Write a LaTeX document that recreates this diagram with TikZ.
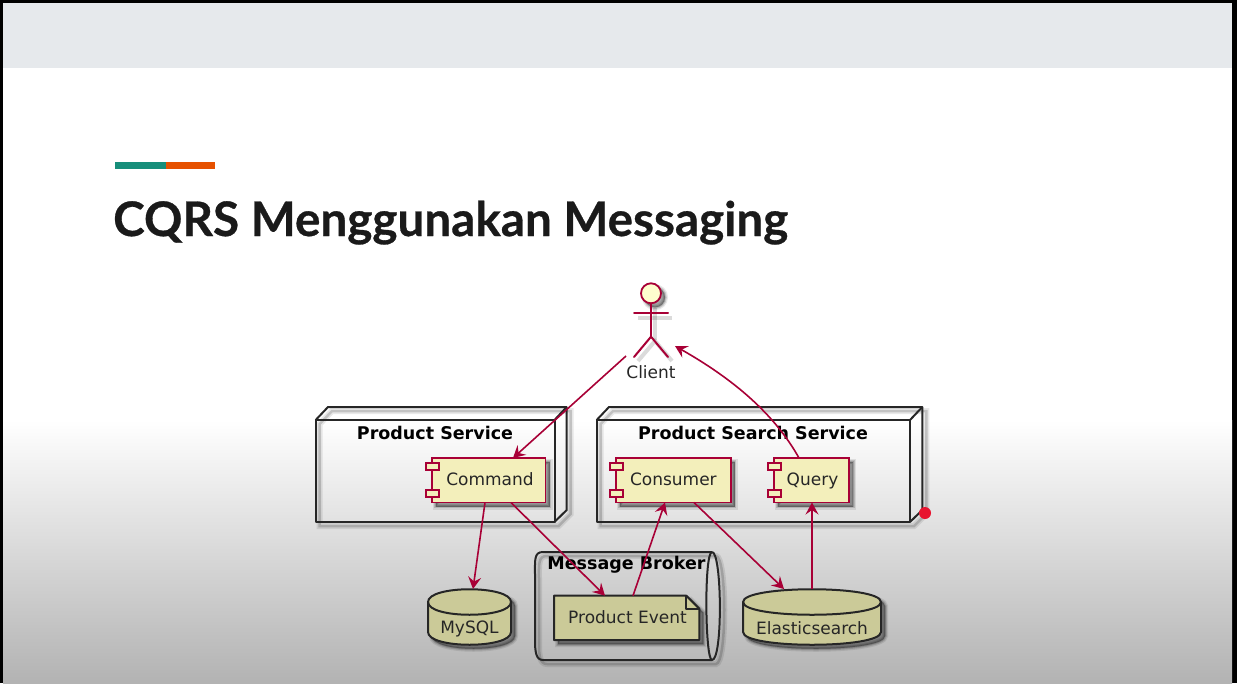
\documentclass[tikz,border=0pt]{standalone}
\usepackage{fontspec}
\setmainfont{DejaVu Sans}
\newfontfamily\titlefont[BoldFeatures={FakeBold=0.6}]{Lato}
\usetikzlibrary{arrows.meta,calc}
\definecolor{umlred}{HTML}{A80036}
\definecolor{compfill}{HTML}{F3EFBB}
\definecolor{dbfill}{HTML}{CBCA98}
\definecolor{headfill}{HTML}{FEFECE}
\definecolor{inkcol}{HTML}{262626}
\definecolor{titlecol}{HTML}{1A1A1A}
\tikzset{
  softshadow/.style={
    preaction={draw=black,fill=black,draw opacity=.09,fill opacity=.09,line width=6pt,transform canvas={shift={(4pt,-4pt)}}},
    preaction={draw=black,fill=black,draw opacity=.14,fill opacity=.14,line width=3.5pt,transform canvas={shift={(4pt,-4pt)}}},
    preaction={draw=black,fill=black,draw opacity=.16,fill opacity=.16,line width=1.5pt,transform canvas={shift={(4pt,-4pt)}}}},
  lineshadow/.style={
    preaction={draw=black,draw opacity=.09,line width=6pt,transform canvas={shift={(4pt,-4pt)}}},
    preaction={draw=black,draw opacity=.16,line width=2.5pt,transform canvas={shift={(4pt,-4pt)}}}},
  comp/.style={rectangle,draw=umlred,line width=1.8pt,fill=compfill,softshadow,inner sep=0pt,outer sep=0pt,font=\fontsize{17}{20}\selectfont,text=inkcol,text height=14pt,text depth=4pt},
  port/.style={rectangle,draw=umlred,line width=1.8pt,fill=compfill,inner sep=0pt,outer sep=0pt,minimum width=13pt,minimum height=7pt},
  boxline/.style={draw=inkcol,line width=2pt,line join=round},
  frontbox/.style={rectangle,boxline,inner sep=0pt,outer sep=0pt},
  titletxt/.style={font=\bfseries\fontsize{17.5}{20}\selectfont,text=black,inner sep=0pt},
  dbtxt/.style={font=\fontsize{17}{20}\selectfont,text=inkcol,inner sep=0pt},
  conn/.style={draw=umlred,line width=1.6pt,-{Stealth[length=12pt,width=13pt,inset=4.5pt]}},
  limb/.style={draw=umlred,line width=2pt,line cap=round},
  limbshadow/.style={draw=black,draw opacity=.14,line width=4pt}
}
\begin{document}
\begin{tikzpicture}[x=1pt,y=-1pt]
\useasboundingbox (0,0) rectangle (1237,683);
% slide background
\fill[black] (0,0) rectangle (1237,683);
\fill[white] (3,2.5) rectangle (1232,683);
\fill[top color=white,bottom color=black!30] (3,420) rectangle (1232,683);
\fill[fill={rgb,255:red,230;green,233;blue,236}] (3,2.5) rectangle (1232,68);
% accent bar
\fill[fill={rgb,255:red,23;green,142;blue,122}] (115,162) rectangle (165.5,168.5);
\fill[fill={rgb,255:red,230;green,81;blue,0}] (165.5,162) rectangle (215,168.5);
% title
\node[anchor=base west,inner sep=0pt,text=titlecol,font=\titlefont\bfseries\fontsize{47.6}{50}\selectfont] (title) at (113,236) {CQRS Menggunakan Messaging};
% Product Service node
\path[lineshadow] (315.7,420) -- (328,407) -- (566.7,407) -- (566.7,510) -- (554.5,522) -- (315.7,522) -- cycle;
\node[frontbox,anchor=north west,minimum width=238.8pt,minimum height=102pt] (ps) at (315.7,420) {};
\draw[boxline] (ps.north west) -- (328,407) -- (566.7,407) -- (566.7,510) -- (ps.south east);
\draw[boxline] (ps.north east) -- (566.7,407);
\node[titletxt] (pst) at (435,433) {Product Service};
% Product Search Service node
\path[lineshadow] (596.7,420) -- (609,407) -- (922.3,407) -- (922.3,510) -- (910,522) -- (596.7,522) -- cycle;
\node[frontbox,anchor=north west,minimum width=313.3pt,minimum height=102pt] (pss) at (596.7,420) {};
\draw[boxline] (pss.north west) -- (609,407) -- (922.3,407) -- (922.3,510) -- (pss.south east);
\draw[boxline] (pss.north east) -- (922.3,407);
\node[titletxt] (psst) at (753,433) {Product Search Service};
% Components
\node[comp,anchor=north west,minimum width=113.5pt,minimum height=44.5pt] (cmd) at (432,458) {\hspace*{2.5pt}Command};
\node[port] (cmdp1) at (432.5,466.7) {};
\node[port] (cmdp2) at (432.5,493.5) {};
\node[comp,anchor=north west,minimum width=114.7pt,minimum height=44.5pt] (cons) at (616,458) {Consumer};
\node[port] (consp1) at (616.5,466.7) {};
\node[port] (consp2) at (616.5,493.5) {};
\node[comp,anchor=north west,minimum width=75.3pt,minimum height=44.5pt] (qry) at (774,458) {\hspace*{1.7pt}Query};
\node[port] (qryp1) at (774.5,466.7) {};
\node[port] (qryp2) at (774.5,493.5) {};
% Actor
\draw[limbshadow] (638,318) -- (672,318);
\draw[limbshadow] (655,308) -- (655,340);
\draw[limbshadow] (638,361) -- (655,341) -- (672,361);
\node[circle,draw=umlred,line width=1.8pt,fill=headfill,minimum size=20pt,inner sep=0pt,outer sep=0pt,softshadow] (head) at (651,293.3) {};
\coordinate (hip) at (651,336.7);
\coordinate (armL) at (634,313.3);
\coordinate (armR) at (668,313.3);
\coordinate (legL) at (634,357);
\coordinate (legR) at (668,357);
\draw[limb] (head.south) -- (hip);
\draw[limb] (armL) -- (armR);
\draw[limb] (legL) -- (hip) -- (legR);
\node[dbtxt] (client) at (651,372) {Client};
\coordinate (clientL) at (626,356);
\coordinate (clientR) at (675,346);
% Databases
\path[softshadow,fill=dbfill,boxline] (428,602) .. controls (428,585) and (511,585) .. (511,602) -- (511,632) .. controls (511,649) and (428,649) .. (428,632) -- cycle;
\draw[boxline] (428,602) .. controls (428,619) and (511,619) .. (511,602);
\node[dbtxt] (mysql) at (469.5,628.5) {MySQL};
\coordinate (mysqltop) at (473,589);
\path[softshadow,fill=dbfill,boxline] (743,602) .. controls (743,585) and (881,585) .. (881,602) -- (881,632) .. controls (881,649) and (743,649) .. (743,632) -- cycle;
\draw[boxline] (743,602) .. controls (743,619) and (881,619) .. (881,602);
\node[dbtxt] (es) at (812,628.5) {Elasticsearch};
\coordinate (estop) at (812,589);
% Queue
\path[lineshadow] (712,552) .. controls (723,552) and (723,660) .. (712,660) -- (543,660) .. controls (536,660) and (535,652) .. (535,640) -- (535,575) .. controls (535,560) and (534,552) .. (543,552) -- cycle;
\draw[boxline] (712,552) .. controls (722,552) and (723,660) .. (712,660) .. controls (705,660) and (704,552) .. (712,552);
\draw[boxline] (712,552) -- (543,552) .. controls (534,552) and (535,560) .. (535,575) -- (535,640) .. controls (535,652) and (536,660) .. (543,660) -- (712,660);
\node[titletxt] (mbt) at (626.5,565) {Message Broker};
% Note
\path[softshadow,boxline,fill=dbfill] (554,595.7) -- (686.3,595.7) -- (699.3,608.7) -- (699.3,640) -- (554,640) -- cycle;
\draw[boxline] (686.3,595.7) -- (686.3,608.7) -- (699.3,608.7);
\node[dbtxt] (pe) at (627.5,617) {Product Event};
\coordinate (petop) at (626.7,595.7);
% Connectors
\draw[conn] (clientL) -- ([xshift=24.25pt]cmd.north);
\draw[conn] ([xshift=-12.65pt]qry.north) .. controls (775,415) and (735,380) .. (clientR);
\draw[conn] ([xshift=-3.75pt]cmd.south) -- (mysqltop);
\draw[conn] ([xshift=22.25pt]cmd.south) -- ([xshift=-21.7pt]petop);
\draw[conn] ([xshift=6.3pt]petop) -- ([xshift=-8.35pt]cons.south);
\draw[conn] ([xshift=20.65pt]cons.south) -- ([xshift=-28pt]estop);
\draw[conn] (estop) -- ([xshift=0.35pt]qry.south);
% red dot
\fill[fill={rgb,255:red,232;green,20;blue,47}] (925,513) circle[radius=6];
\end{tikzpicture}
\end{document}
